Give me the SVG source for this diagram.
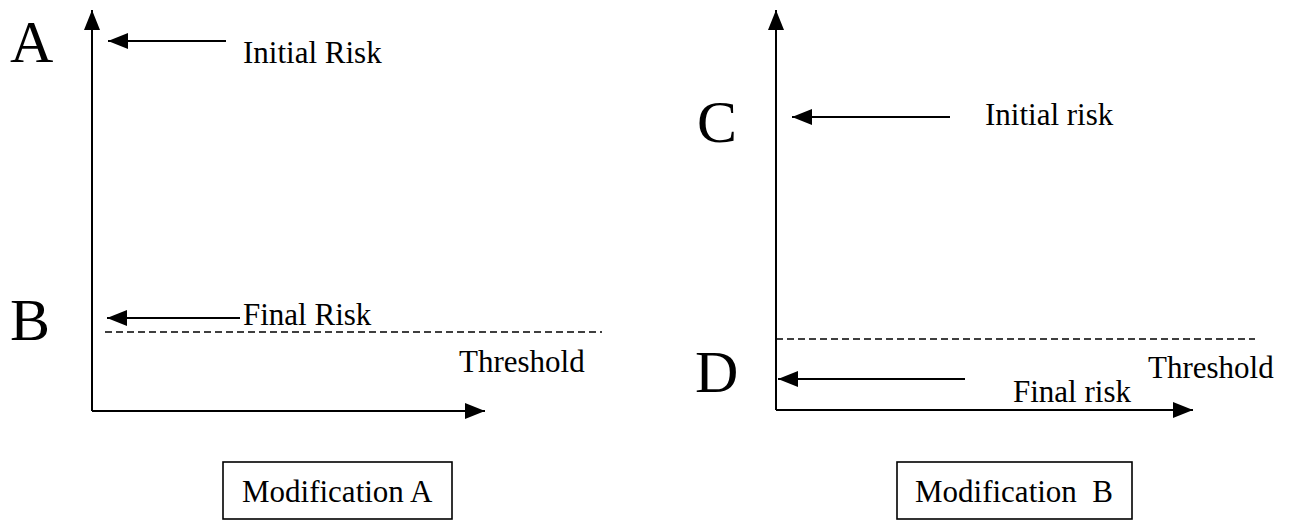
<svg xmlns="http://www.w3.org/2000/svg" width="1289" height="527" viewBox="0 0 1289 527">
<style>
.ln{stroke:#000;stroke-width:2;fill:none}
.dash{stroke:#000;stroke-width:1.6;stroke-dasharray:7,4;fill:none}
.t{font-family:"Liberation Serif",serif;font-size:31px;fill:#000}
.big{font-family:"Liberation Serif",serif;font-size:60px;fill:#000}
.box{fill:#fff;stroke:#000;stroke-width:1.6}
</style>
<defs>
<marker id="ah" viewBox="0 0 20 16" refX="20" refY="8" markerWidth="20" markerHeight="16" markerUnits="userSpaceOnUse" orient="auto">
<path d="M0,0 L20,8 L0,16 Z" fill="#000"/>
</marker>
</defs>
<rect width="1289" height="527" fill="#fff"/>
<g id="connectors">
<line class="ln" x1="92" y1="411" x2="92" y2="10" marker-end="url(#ah)"/>
<line class="ln" x1="92" y1="411" x2="485" y2="411" marker-end="url(#ah)"/>
<line class="ln" x1="226" y1="41" x2="108" y2="41" marker-end="url(#ah)"/>
<line class="ln" x1="240" y1="318" x2="107" y2="318" marker-end="url(#ah)"/>
<line class="dash" x1="105" y1="332" x2="602" y2="332"/>
<line class="ln" x1="776" y1="410" x2="776" y2="10" marker-end="url(#ah)"/>
<line class="ln" x1="776" y1="410" x2="1193" y2="410" marker-end="url(#ah)"/>
<line class="ln" x1="950" y1="117" x2="792" y2="117" marker-end="url(#ah)"/>
<line class="ln" x1="965" y1="379" x2="778" y2="379" marker-end="url(#ah)"/>
<line class="dash" x1="776" y1="339" x2="1255" y2="339"/>
</g>
<g id="labelA"><text class="big" x="10" y="62">A</text></g>
<g id="labelB"><text class="big" x="10" y="340">B</text></g>
<g id="labelC"><text class="big" x="697" y="142">C</text></g>
<g id="labelD"><text class="big" x="695" y="392">D</text></g>
<g id="initialRiskA"><text class="t" x="243" y="63">Initial Risk</text></g>
<g id="finalRiskA"><text class="t" x="243" y="325">Final Risk</text></g>
<g id="thresholdA"><text class="t" x="459" y="372">Threshold</text></g>
<g id="initialRiskB"><text class="t" x="985" y="125">Initial risk</text></g>
<g id="finalRiskB"><text class="t" x="1013" y="402">Final risk</text></g>
<g id="thresholdB"><text class="t" x="1148" y="378">Threshold</text></g>
<g id="modA"><rect class="box" x="223" y="462" width="229" height="57"/><text class="t" x="242" y="502">Modification A</text></g>
<g id="modB"><rect class="box" x="897" y="462" width="235" height="57"/><text class="t" x="915" y="502" xml:space="preserve">Modification  B</text></g>
</svg>
